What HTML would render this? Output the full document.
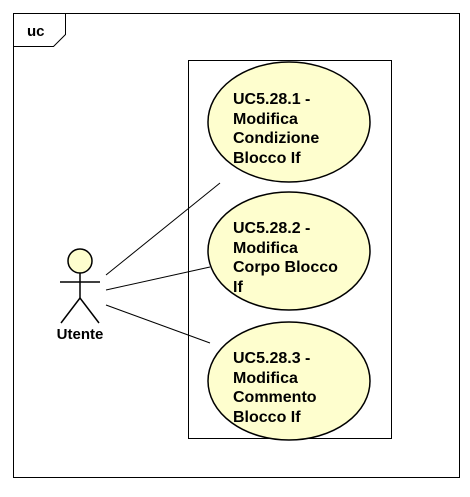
<!DOCTYPE html>
<html><head><meta charset="utf-8"><style>body{margin:0;background:#fff}</style></head><body>
<svg width="470" height="492" xmlns="http://www.w3.org/2000/svg" font-family="Liberation Sans, sans-serif">
<rect x="0" y="0" width="470" height="492" fill="#fff"/>
<rect x="13.5" y="13.5" width="446" height="464" fill="none" stroke="#000"/>
<path d="M13.5 46.5 H53.5 L65.5 34.5 V13.5" fill="none" stroke="#000"/>
<text x="27" y="36" font-size="15" font-weight="bold">uc</text>
<rect x="188.5" y="60.5" width="203" height="378" fill="none" stroke="#000"/>
<g fill="#fefece" stroke="#000" stroke-width="1.5">
<ellipse cx="289" cy="122" rx="81" ry="60"/>
<ellipse cx="289" cy="251" rx="81" ry="59"/>
<ellipse cx="289" cy="381" rx="81" ry="59"/>
</g>
<g font-size="16" font-weight="bold" fill="#000">
<text x="233" y="104">UC5.28.1 -</text><text x="233" y="124">Modifica</text><text x="233" y="143">Condizione</text><text x="233" y="163">Blocco If</text>
<text x="233" y="233">UC5.28.2 -</text><text x="233" y="253">Modifica</text><text x="233" y="272">Corpo Blocco</text><text x="233" y="292">If</text>
<text x="233" y="363">UC5.28.3 -</text><text x="233" y="383">Modifica</text><text x="233" y="402">Commento</text><text x="233" y="422">Blocco If</text>
</g>
<g stroke="#000" stroke-width="1">
<line x1="106" y1="275" x2="220" y2="183"/>
<line x1="106" y1="290" x2="210" y2="267"/>
<line x1="106" y1="305" x2="210" y2="343"/>
</g>
<circle cx="80" cy="261" r="12" fill="#fefece" stroke="#000" stroke-width="1.5"/>
<g stroke="#000" stroke-width="1.5" fill="none">
<line x1="80" y1="273" x2="80" y2="298"/>
<line x1="60" y1="282" x2="100" y2="282"/>
<path d="M61 323 L80 298 L99 323"/>
</g>
<text x="80" y="339" font-size="15" font-weight="bold" text-anchor="middle">Utente</text>
</svg>
</body></html>
